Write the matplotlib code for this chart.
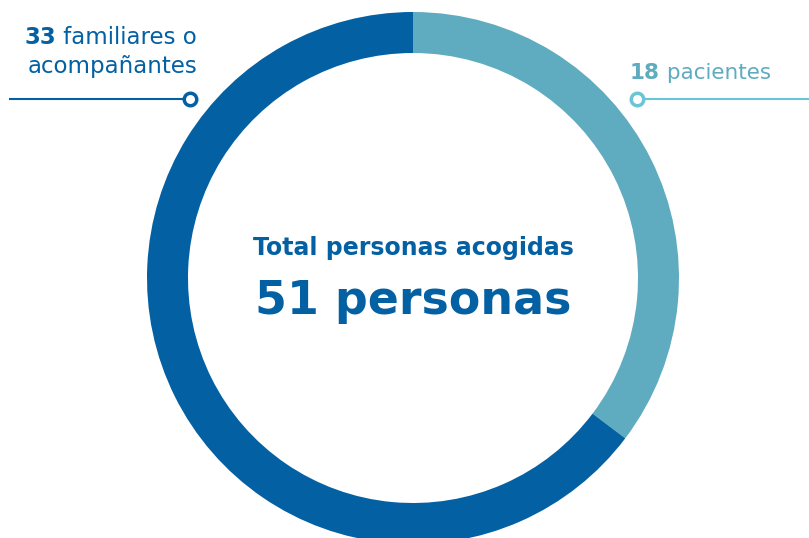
import matplotlib
matplotlib.use("Agg")
from matplotlib import pyplot as plt

# Data
labels = ["pacientes", "familiares o\nacompañantes"]
counts = [18, 33]
total_label = "Total personas acogidas"
total_unit = "personas"

dark = "#0360a3"
light = "#5fabbf"
line_light = "#6cc5d6"

plt.rcParams['font.family'] = ['DejaVu Sans']

W, H = 809, 538
fig = plt.figure(figsize=(W / 100, H / 100), dpi=100)
ax = fig.add_axes([0, 0, 1, 1])


def py(y):
    # pixel row from the top -> data y
    return H - y


cx, cy, r = 413, 278, 266
ax.pie(counts, colors=[light, dark], startangle=90, counterclock=False,
       center=(cx, py(cy)), radius=r,
       wedgeprops=dict(width=41, linewidth=0), frame=True)
ax.set_xlim(0, W)
ax.set_ylim(0, H)
ax.set_aspect("equal")
ax.axis("off")

# centre text
ax.text(cx, py(248), total_label, ha="center", va="center",
        fontsize=17, fontweight="bold", color=dark)
ax.text(cx, py(302), f"{sum(counts)} {total_unit}", ha="center", va="center",
        fontsize=33, fontweight="bold", color=dark)

fig.canvas.draw()
renderer = fig.canvas.get_renderer()

# left label (familiares)
fam_lines = labels[1].split("\n")
t1 = ax.text(197, py(38), " " + fam_lines[0], ha="right", va="center",
             fontsize=16.5, color=dark)
bb = t1.get_window_extent(renderer)
ax.text(bb.x0, py(38), str(counts[1]), ha="right", va="center",
        fontsize=16.5, fontweight="bold", color=dark)
ax.text(197, py(67), fam_lines[1], ha="right", va="center",
        fontsize=16.5, color=dark)
ax.plot([10, 190], [py(99), py(99)], color=dark, lw=1.5)
ax.plot([190], [py(99)], marker="o", ms=9, mfc="white", mec=dark, mew=2.5)

# right label (pacientes)
t2 = ax.text(630, py(73), str(counts[0]), ha="left", va="center",
             fontsize=15.5, fontweight="bold", color=light)
bb = t2.get_window_extent(renderer)
ax.text(bb.x1, py(73), " " + labels[0], ha="left", va="center",
        fontsize=15.5, color=light)
ax.plot([637, W], [py(99), py(99)], color=line_light, lw=1.5)
ax.plot([637], [py(99)], marker="o", ms=9, mfc="white", mec=line_light, mew=2.5)

fig.savefig("out.png", dpi=100, facecolor="white")
